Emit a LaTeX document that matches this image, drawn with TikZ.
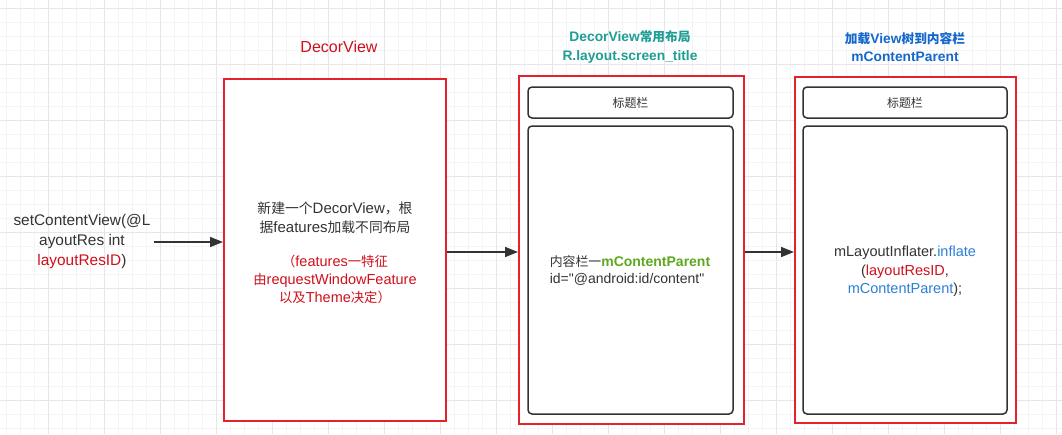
\documentclass[tikz,border=0pt]{standalone}
\usepackage{fontspec}
\setmainfont{Liberation Sans}
\newfontfamily\qf{Liberation Sans}
\newfontfamily\cjk[Scale=0.92]{Noto Sans CJK SC}
\newcommand\zh[1]{{\cjk #1}}
\newcommand\sq{{\qf "}}
\usetikzlibrary{arrows.meta}
\definecolor{bred}{HTML}{E3222E}
\definecolor{tred}{HTML}{D0101C}
\definecolor{teal1}{HTML}{1E9E95}
\definecolor{blue1}{HTML}{1467CC}
\definecolor{blue2}{HTML}{2B7FD6}
\definecolor{green1}{HTML}{5DA81E}
\definecolor{dark}{HTML}{333333}
\definecolor{gminor}{HTML}{F4F4F4}
\definecolor{gmajor}{HTML}{E6E6E6}
\tikzset{
  redbox/.style={draw=bred, line width=2pt, fill=white, minimum width=#1, inner sep=0pt},
  innerbox/.style={draw=dark, line width=1.5pt, fill=white, rounded corners=4pt, inner sep=0pt},
  lbl/.style={font=\fontsize{14.5}{18.5}\selectfont, text=dark, align=center},
  ttl/.style={font=\bfseries\fontsize{13.8}{18.5}\selectfont, align=center},
  arr/.style={draw=dark, line width=1.5pt, -{Triangle[length=13pt,width=10pt]}}
}
\begin{document}
\begin{tikzpicture}[x=1pt,y=-1pt]
\useasboundingbox (0,0) rectangle (1062,434);
\fill[white] (0,0) rectangle (1062,434);
% grid
\foreach \i in {0,...,76} {\draw[gminor, line width=0.6pt] ({6+14*\i},0) -- ({6+14*\i},434);}
\foreach \i in {0,...,31} {\draw[gminor, line width=0.6pt] (0,{8+14*\i}) -- (1062,{8+14*\i});}
\foreach \i in {0,...,19} {\draw[gmajor, line width=0.8pt] ({48+56*\i},0) -- ({48+56*\i},434);}
\foreach \i in {0,...,7} {\draw[gmajor, line width=0.8pt] (0,{8+56*\i}) -- (1062,{8+56*\i});}

% boxes
\node[redbox=222pt, minimum height=342pt] (box1) at (335,250) {};
\node[redbox=225pt, minimum height=348pt] (box2) at (631.5,250) {};
\node[redbox=221pt, minimum height=346pt] (box3) at (905.5,250) {};
\node[innerbox, minimum width=205pt, minimum height=31pt] (t2) at (630.5,102.5) {};
\node[innerbox, minimum width=205pt, minimum height=288pt] (c2) at (630.5,270) {};
\node[innerbox, minimum width=204pt, minimum height=31pt] (t3) at (905,102.5) {};
\node[innerbox, minimum width=204pt, minimum height=288pt] (c3) at (905,270) {};

% titles
\node[align=center, text=tred, font=\fontsize{16}{18}\selectfont] (h1) at (339,47) {DecorView};
\node[ttl, text=teal1] (h2) at (630,47) {DecorView\zh{常用布局}\\R.layout.screen\_title};
\node[ttl, text=blue1] (h3) at (905,47) {\zh{加载}View\zh{树到内容栏}\\mContentParent};

% texts
\node[lbl, font=\fontsize{15.4}{20}\selectfont, inner sep=1pt] (src) at (82,242) {setContentView(@L\\ayoutRes int\\\textcolor{tred}{layoutResID})};
\node[lbl, font=\fontsize{15}{19}\selectfont] (d1) at (335,218) {\zh{新建一个}DecorView\zh{，根}\\\zh{据}features\zh{加载不同布局}};
\node[lbl, font=\fontsize{14.5}{18}\selectfont, text=tred] (d2) at (335,279.5) {\zh{（}features\zh{一特征}\\\zh{由}requestWindowFeature\\\zh{以及}Theme\zh{决定）}};
\node[lbl, font=\fontsize{13}{18}\selectfont] (tt2) at (t2) {\zh{标题栏}};
\node[lbl, font=\fontsize{13}{18}\selectfont] (tt3) at (t3) {\zh{标题栏}};
\node[lbl, align=left, font=\fontsize{14}{17.5}\selectfont] (cc2) at (630,270.5) {\zh{内容栏一}\textcolor{green1}{\bfseries mContentParent}\\id=\sq @android:id/content\sq};
\node[lbl, font=\fontsize{14.5}{18.3}\selectfont] (cc3) at (905,271.5) {mLayoutInflater.\textcolor{blue2}{inflate}\\(\textcolor{tred}{layoutResID},\\\textcolor{blue2}{mContentParent});};

% arrows
\draw[arr] ([xshift=2pt]src.east) -- (box1.west |- src.east);
\draw[arr] ([yshift=-2pt]box1.east) -- ([yshift=-2pt]box2.west);
\draw[arr] ([yshift=-2pt]box2.east) -- ([yshift=-2pt]box3.west);
\end{tikzpicture}
\end{document}
